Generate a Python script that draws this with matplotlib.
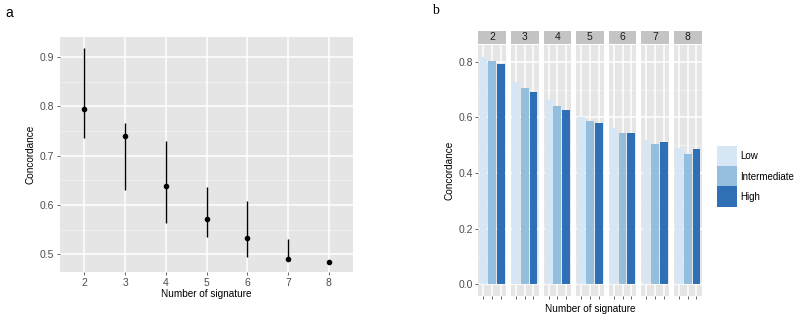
import numpy as np
import matplotlib.pyplot as plt

plt.rcParams['font.family'] = ['Liberation Sans', 'DejaVu Sans']

# panel a : concordance by number of signatures
n_sig = [2, 3, 4, 5, 6, 7, 8]
conc_mid = [0.794, 0.740, 0.639, 0.571, 0.534, 0.491, 0.484]
conc_lo = [0.735, 0.631, 0.563, 0.535, 0.495, 0.491, 0.484]
conc_hi = [0.918, 0.767, 0.729, 0.637, 0.608, 0.530, 0.484]

# panel b : concordance by risk group, one facet per number of signatures
groups = ['Low', 'Intermediate', 'High']
conc_low = [0.819, 0.729, 0.663, 0.603, 0.561, 0.519, 0.490]
conc_int = [0.805, 0.707, 0.641, 0.586, 0.543, 0.505, 0.470]
conc_high = [0.794, 0.693, 0.628, 0.580, 0.543, 0.511, 0.485]
grp_colors = ['#D6E6F4', '#93BEDD', '#2E6FB5']

bg = '#E5E5E5'
minor_c = '#F2F2F2'
tick_c = '#4D4D4D'
W, H = 794, 315

fig = plt.figure(figsize=(W/100, H/100), dpi=100)


def px_axes(x0, y0, x1, y1):
    return fig.add_axes([x0/W, 1 - y1/H, (x1 - x0)/W, (y1 - y0)/H])


def gg_style(ax):
    ax.set_facecolor(bg)
    for s in ax.spines.values():
        s.set_visible(False)
    ax.tick_params(colors=tick_c, labelsize=7.5, length=2.5, width=0.6, pad=1.5)
    ax.set_axisbelow(True)


# ---- panel a
ax = px_axes(60, 37, 353, 272)
gg_style(ax)
ax.set_xlim(1.4, 8.6)
ax.set_ylim(0.464, 0.941)
for y in [0.45, 0.55, 0.65, 0.75, 0.85]:
    ax.axhline(y, color=minor_c, lw=0.6, zorder=0)
for y in [0.5, 0.6, 0.7, 0.8, 0.9]:
    ax.axhline(y, color='white', lw=1.1, zorder=0)
for x in n_sig:
    ax.axvline(x, color='white', lw=1.1, zorder=0)
ax.vlines(n_sig, conc_lo, conc_hi, color='black', lw=1.0, zorder=2)
ax.scatter(n_sig, conc_mid, s=9, color='black', zorder=3)
ax.set_xticks(n_sig)
ax.set_yticks([0.5, 0.6, 0.7, 0.8, 0.9])
ax.set_xlabel('Number of signature', fontsize=7.2, labelpad=1)
ax.set_ylabel('Concordance', fontsize=7.2, labelpad=3)
fig.text(5/W, 1 - 13/H, 'a', fontsize=10, va='center')

# ---- panel b
left0, step, fw = 478.3, 32.6, 27.7
top, bot, strip_top = 45, 296, 31
for i, n in enumerate(n_sig):
    x0 = left0 + i*step
    ax = px_axes(x0, top, x0 + fw, bot)
    gg_style(ax)
    ax.set_xlim(0.4, 3.6)
    ax.set_ylim(-0.043, 0.861)
    for y in [0.1, 0.3, 0.5, 0.7]:
        ax.axhline(y, color=minor_c, lw=0.6, zorder=0)
    for y in [0.0, 0.2, 0.4, 0.6, 0.8]:
        ax.axhline(y, color='white', lw=1.1, zorder=0)
    for x in [1, 2, 3]:
        ax.axvline(x, color='white', lw=1.1, zorder=0)
    vals = [conc_low[i], conc_int[i], conc_high[i]]
    ax.bar([1, 2, 3], vals, width=0.9, color=grp_colors, zorder=2)
    ax.set_xticks([1, 2, 3])
    ax.set_xticklabels(['', '', ''])
    if i == 0:
        ax.set_yticks([0.0, 0.2, 0.4, 0.6, 0.8])
        ax.set_ylabel('Concordance', fontsize=7.2, labelpad=3)
    else:
        ax.set_yticks([])
    # facet strip
    sax = px_axes(x0, strip_top, x0 + fw, top - 1)
    sax.set_facecolor('#C4C4C4')
    sax.set_xticks([])
    sax.set_yticks([])
    for s in sax.spines.values():
        s.set_visible(False)
    sax.text(0.5, 0.5, str(n), transform=sax.transAxes, ha='center',
             va='center', fontsize=7.5, color='#1A1A1A')

fig.text((left0 + 6*step + fw + left0)/2/W, 1 - 309/H, 'Number of signature',
         fontsize=7.2, ha='center', va='center')
fig.text(432/W, 1 - 11/H, 'b', fontsize=10, family='Liberation Serif',
         va='center')

# legend
for j, g in enumerate(groups):
    y0 = 145.7 + j*20.3
    lax = px_axes(717, y0, 736.7, y0 + 20.3)
    lax.set_facecolor(grp_colors[j])
    lax.set_xticks([])
    lax.set_yticks([])
    for s in lax.spines.values():
        s.set_visible(False)
    fig.text(740/W, 1 - (y0 + 10.5)/H, g, fontsize=7, va='center')

fig.savefig('out.png', dpi=100)
